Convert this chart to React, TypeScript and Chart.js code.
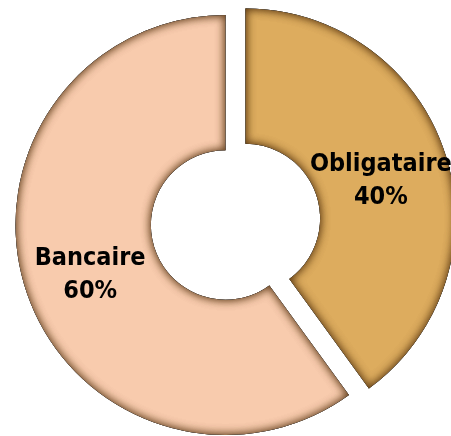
import React, { useEffect, useRef } from "react";
import { Chart, registerables } from "chart.js";

Chart.register(...registerables);

const categories = ["Obligataire", "Bancaire"];
const values = [40, 60];
const valueLabels = ["40%", "60%"];
const colors = ["#DDAC5E", "#F8CBAD"];
const explode = [21, 0];

const explodePlugin = {
  id: "explode",
  afterDatasetUpdate(chart: any, args: any) {
    const meta = args.meta;
    meta.data.forEach((arc: any, i: number) => {
      const d = explode[i] || 0;
      if (!d) return;
      const mid = (arc.startAngle + arc.endAngle) / 2;
      arc.x += Math.cos(mid) * d;
      arc.y += Math.sin(mid) * d;
    });
  },
};

const shadowLabelPlugin = {
  id: "shadowLabel",
  afterDatasetsDraw(chart: any) {
    const ctx = chart.ctx as CanvasRenderingContext2D;
    const meta = chart.getDatasetMeta(0);
    meta.data.forEach((arc: any) => {
      const { x, y, startAngle, endAngle, innerRadius, outerRadius } = arc;
      const addArc = () => {
        ctx.moveTo(x + Math.cos(startAngle) * outerRadius, y + Math.sin(startAngle) * outerRadius);
        ctx.arc(x, y, outerRadius, startAngle, endAngle);
        ctx.arc(x, y, innerRadius, endAngle, startAngle, true);
        ctx.closePath();
      };
      ctx.save();
      ctx.beginPath();
      addArc();
      ctx.clip();
      for (let k = 0; k < 2; k++) {
        ctx.beginPath();
        ctx.rect(-2000, -2000, 5000, 5000);
        addArc();
        ctx.shadowColor = "rgba(80,45,10,0.7)";
        ctx.shadowBlur = 10;
        ctx.fillStyle = "#000";
        ctx.fill("evenodd");
      }
      ctx.restore();
    });
    meta.data.forEach((arc: any, i: number) => {
      const { x, y, startAngle, endAngle, innerRadius, outerRadius } = arc;
      const mid = (startAngle + endAngle) / 2;
      const r = (innerRadius + outerRadius) / 2;
      const cx = x + Math.cos(mid) * r;
      const cy = y + Math.sin(mid) * r;
      ctx.save();
      ctx.fillStyle = "#000";
      ctx.font = "bold 25px 'DejaVu Sans Condensed', 'DejaVu Sans'";
      ctx.textAlign = "center";
      ctx.textBaseline = "middle";
      ctx.fillText(categories[i], cx, cy - 10);
      ctx.fillText(valueLabels[i], cx, cy + 23);
      ctx.restore();
    });
  },
};

export default function App() {
  const ref = useRef<HTMLCanvasElement>(null);
  useEffect(() => {
    if (!ref.current) return;
    const chart = new Chart(ref.current, {
      type: "doughnut",
      data: {
        labels: categories,
        datasets: [
          {
            data: values,
            backgroundColor: colors,
            borderWidth: 0,
          },
        ],
      },
      options: {
        responsive: false,
        animation: false,
        radius: 210,
        cutout: 75,
        rotation: 0,
        layout: { padding: { top: 14 } },
        plugins: {
          legend: { display: false },
          tooltip: { enabled: false },
        },
      } as any,
      plugins: [explodePlugin, shadowLabelPlugin],
    });
    return () => chart.destroy();
  }, []);
  return (
    <div style={{ position: "fixed", left: 0, top: 0, width: 451, height: 436, background: "#fff" }}>
      <canvas ref={ref} width={451} height={436} />
    </div>
  );
}
